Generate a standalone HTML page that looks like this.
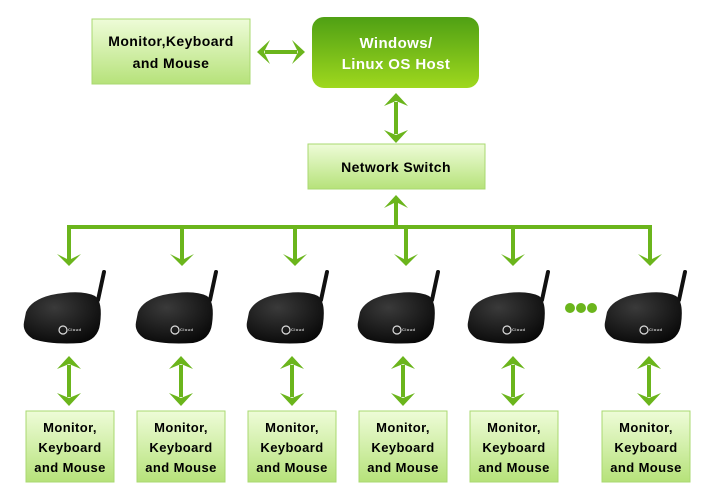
<!DOCTYPE html>
<html><head><meta charset="utf-8"><style>
body{margin:0;background:#fff;width:720px;height:495px;overflow:hidden}
svg text{font-family:"Liberation Sans",sans-serif;font-weight:bold;letter-spacing:0.4px}
</style></head><body>
<svg width="720" height="495" viewBox="0 0 720 495" xmlns="http://www.w3.org/2000/svg">
<defs>
<linearGradient id="lg" x1="0" y1="0" x2="0" y2="1"><stop offset="0" stop-color="#eefcd8"/><stop offset="1" stop-color="#b6e27a"/></linearGradient>
<linearGradient id="dg" x1="0" y1="0" x2="0" y2="1"><stop offset="0" stop-color="#4fa014"/><stop offset="1" stop-color="#9fd81e"/></linearGradient>
<radialGradient id="bk" cx="0.4" cy="0.3" r="0.8"><stop offset="0" stop-color="#3a3a3a"/><stop offset="1" stop-color="#050505"/></radialGradient>
<g id="dev">
<path d="M27 -22 L33 -50" stroke="#111" stroke-width="4" stroke-linecap="round"/>
<path d="M-45 -10 Q-40 -22 -20 -27 Q10 -33 24 -26 Q32 -20 29 2 Q27 18 10 21 Q-20 23 -38 17 Q-49 10 -47 0 Z" fill="url(#bk)"/>
<circle cx="-8" cy="8" r="4" fill="none" stroke="#ddd" stroke-width="1.2"/>
<text x="-3" y="9" font-size="4" fill="#ccc">Cloud</text>
</g>
<g id="ud" fill="#6bb51c">
<rect x="-2" y="-16" width="4" height="32"/>
<polygon points="-12,-12 0,-25 12,-12 0,-17"/>
<polygon points="-12,12 0,25 12,12 0,17"/>
</g>
<g id="da" fill="#6bb51c">
<polygon points="-12,-11 0,1 12,-11 0,-5"/>
</g>
</defs>
<rect x="92" y="19" width="158" height="65" fill="url(#lg)" stroke="#a9d870"/>
<text x="171" y="46" font-size="14" text-anchor="middle">Monitor,Keyboard</text>
<text x="171" y="68" font-size="14" text-anchor="middle">and Mouse</text>
<rect x="312" y="17" width="167" height="71" rx="12" fill="url(#dg)"/>
<text x="396" y="48" font-size="15" text-anchor="middle" fill="#fff">Windows/</text>
<text x="396" y="69" font-size="15" text-anchor="middle" fill="#fff">Linux OS Host</text>
<g fill="#6bb51c"><rect x="265" y="50" width="32" height="4"/>
<polygon points="270,40 257,52 270,64 264,52"/><polygon points="292,40 305,52 292,64 298,52"/></g>
<use href="#ud" x="396" y="118"/>
<rect x="308" y="144" width="177" height="45" fill="url(#lg)" stroke="#a9d870"/>
<text x="396" y="172" font-size="14" text-anchor="middle">Network Switch</text>
<g fill="#6bb51c">
<rect x="394" y="197" width="4" height="30"/>
<polygon points="384,208 396,195 408,208 396,202"/>
<rect x="67" y="225" width="585" height="4"/>
</g>
<g stroke="#6bb51c" stroke-width="4">
<line x1="69" y1="227" x2="69" y2="262"/><line x1="182" y1="227" x2="182" y2="262"/><line x1="295" y1="227" x2="295" y2="262"/><line x1="406" y1="227" x2="406" y2="262"/><line x1="513" y1="227" x2="513" y2="262"/><line x1="650" y1="227" x2="650" y2="262"/>
</g>
<use href="#da" x="69" y="265"/><use href="#da" x="182" y="265"/><use href="#da" x="295" y="265"/><use href="#da" x="406" y="265"/><use href="#da" x="513" y="265"/><use href="#da" x="650" y="265"/>
<use href="#dev" x="71" y="322"/><use href="#dev" x="183" y="322"/><use href="#dev" x="294" y="322"/><use href="#dev" x="405" y="322"/><use href="#dev" x="515" y="322"/><use href="#dev" x="652" y="322"/>
<g fill="#6bb51c"><circle cx="570" cy="308" r="5"/><circle cx="581" cy="308" r="5"/><circle cx="592" cy="308" r="5"/></g>
<use href="#ud" x="69" y="381"/><use href="#ud" x="181" y="381"/><use href="#ud" x="292" y="381"/><use href="#ud" x="403" y="381"/><use href="#ud" x="513" y="381"/><use href="#ud" x="649" y="381"/>
<g font-size="13" text-anchor="middle">
<rect x="26" y="411" width="88" height="71" fill="url(#lg)" stroke="#a9d870"/>
<text x="70" y="432">Monitor,</text><text x="70" y="452">Keyboard</text><text x="70" y="472">and Mouse</text>
<rect x="137" y="411" width="88" height="71" fill="url(#lg)" stroke="#a9d870"/>
<text x="181" y="432">Monitor,</text><text x="181" y="452">Keyboard</text><text x="181" y="472">and Mouse</text>
<rect x="248" y="411" width="88" height="71" fill="url(#lg)" stroke="#a9d870"/>
<text x="292" y="432">Monitor,</text><text x="292" y="452">Keyboard</text><text x="292" y="472">and Mouse</text>
<rect x="359" y="411" width="88" height="71" fill="url(#lg)" stroke="#a9d870"/>
<text x="403" y="432">Monitor,</text><text x="403" y="452">Keyboard</text><text x="403" y="472">and Mouse</text>
<rect x="470" y="411" width="88" height="71" fill="url(#lg)" stroke="#a9d870"/>
<text x="514" y="432">Monitor,</text><text x="514" y="452">Keyboard</text><text x="514" y="472">and Mouse</text>
<rect x="602" y="411" width="88" height="71" fill="url(#lg)" stroke="#a9d870"/>
<text x="646" y="432">Monitor,</text><text x="646" y="452">Keyboard</text><text x="646" y="472">and Mouse</text>
</g>
</svg>
</body></html>
